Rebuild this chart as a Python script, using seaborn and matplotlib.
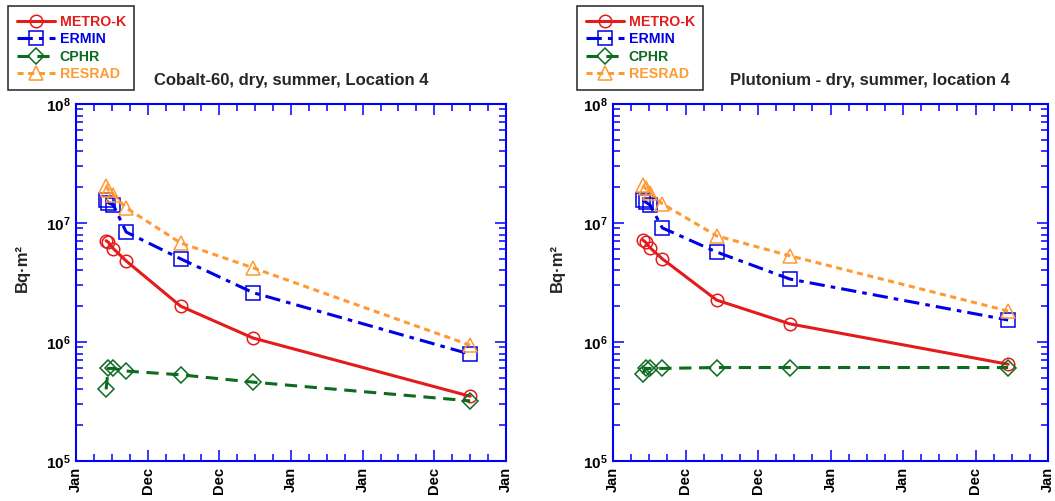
import matplotlib
matplotlib.use('Agg')
import matplotlib.pyplot as plt
from matplotlib.ticker import MultipleLocator, LogLocator, NullFormatter
import numpy as np
import pandas as pd
import seaborn as sns

# model names and x tick labels
models = ['METRO-K', 'ERMIN', 'CPHR', 'RESRAD']
x_tick_labels = ['Jan', 'Dec', 'Dec', 'Jan', 'Jan', 'Dec', 'Jan']

# Cobalt-60 panel (time in tick units)
co_time = [0.42, 0.45, 0.52, 0.70, 1.46, 2.47, 5.50]
co_metro = [7.1e6, 6.9e6, 6.1e6, 4.8e6, 2.0e6, 1.08e6, 3.5e5]
co_ermin = [1.56e7, 1.48e7, 1.42e7, 8.4e6, 5.0e6, 2.6e6, 7.9e5]
co_cphr = [4.0e5, 6.0e5, 6.0e5, 5.7e5, 5.3e5, 4.6e5, 3.2e5]
co_resrad = [2.05e7, 1.9e7, 1.72e7, 1.34e7, 6.8e6, 4.2e6, 9.4e5]

# Plutonium panel
pu_time = [0.41, 0.45, 0.51, 0.68, 1.43, 2.44, 5.45]
pu_metro = [7.2e6, 6.9e6, 6.2e6, 5.0e6, 2.25e6, 1.42e6, 6.5e5]
pu_ermin = [1.56e7, 1.5e7, 1.42e7, 9.1e6, 5.7e6, 3.38e6, 1.53e6]
pu_cphr = [5.4e5, 6.0e5, 6.0e5, 6.0e5, 6.1e5, 6.1e5, 6.1e5]
pu_resrad = [2.08e7, 1.95e7, 1.79e7, 1.45e7, 7.8e6, 5.3e6, 1.82e6]

styles = {
    'METRO-K': dict(color='#e41b1b', marker='o', ls='-', ms=9),
    'ERMIN': dict(color='#0000e6', marker='s', ls=(0, (5, 2, 1.5, 2)), ms=9.5),
    'CPHR': dict(color='#0b6b1e', marker='D', ls=(0, (4, 2.5)), ms=8),
    'RESRAD': dict(color='#ff9a33', marker='^', ls=(0, (2, 1.5)), ms=9.5),
}


def make_frame(time, series):
    rows = []
    for m, vals in zip(models, series):
        for t, v in zip(time, vals):
            rows.append({'model': m, 't': t, 'v': v})
    return pd.DataFrame(rows)


def draw_panel(ax, frame, title, title_x, ylabel_x, legend_x):
    for m in models:
        sub = frame[frame['model'] == m]
        st = styles[m]
        sns.lineplot(data=sub, x='t', y='v', ax=ax, color=st['color'],
                     marker=st['marker'], markersize=st['ms'],
                     markerfacecolor='none', markeredgecolor=st['color'],
                     markeredgewidth=1.1, linestyle=st['ls'], linewidth=2.2,
                     label=m, legend=False, sort=False, estimator=None)

    ax.set_yscale('log')
    ax.set_ylim(1e5, 1e8)
    ax.set_xlim(0, 6)
    ax.xaxis.set_major_locator(MultipleLocator(1))
    ax.xaxis.set_minor_locator(MultipleLocator(0.25))
    ax.set_xticks(range(7))
    ax.set_xticklabels(x_tick_labels, rotation=90, fontsize=10.5, fontweight='bold')
    ax.set_yticks([1e5, 1e6, 1e7, 1e8])
    ax.set_yticklabels([r'$\mathbf{10^{%d}}$' % p for p in [5, 6, 7, 8]], fontsize=11)
    ax.yaxis.set_minor_locator(LogLocator(base=10, subs=np.arange(2, 10)))
    ax.yaxis.set_minor_formatter(NullFormatter())

    ax.tick_params(axis='both', which='both', direction='in', top=True, right=True,
                   bottom=True, left=True, color='blue', width=1.1, labelcolor='black')
    ax.tick_params(axis='both', which='major', length=8, pad=4)
    ax.tick_params(axis='both', which='minor', length=5)
    for sp in ax.spines.values():
        sp.set_color('blue')
        sp.set_linewidth(1.5)

    ax.set_xlabel('')
    ax.set_ylabel('Bq·m²', fontsize=12, fontweight='bold')
    ax.yaxis.set_label_coords(ylabel_x, 0.54)
    ax.text(title_x, 1.053, title, transform=ax.transAxes, ha='center', va='baseline',
            fontsize=12, fontweight='bold')

    handles, labels = ax.get_legend_handles_labels()
    fig = ax.figure
    leg = ax.legend(handles, labels, loc='upper left',
                    bbox_to_anchor=(legend_x / 1055, 1 - 6 / 501),
                    bbox_transform=fig.transFigure, frameon=True, fancybox=False,
                    edgecolor='black', prop={'size': 10.2, 'weight': 'bold'},
                    labelcolor='linecolor', handlelength=2.7, labelspacing=0.25,
                    borderpad=0.6, handletextpad=0.35, borderaxespad=0)
    leg.get_frame().set_linewidth(1.2)


sns.set_style('white')
plt.rcParams['font.family'] = ['Liberation Sans', 'DejaVu Sans']
plt.rcParams['mathtext.fontset'] = 'custom'
plt.rcParams['mathtext.rm'] = 'Liberation Sans'
plt.rcParams['mathtext.bf'] = 'Liberation Sans:bold'

fig = plt.figure(figsize=(10.55, 5.01), dpi=100)
ax1 = fig.add_axes([76 / 1055, 40 / 501, 430 / 1055, 357 / 501])
ax2 = fig.add_axes([613 / 1055, 40 / 501, 435 / 1055, 357 / 501])

co_frame = make_frame(co_time, [co_metro, co_ermin, co_cphr, co_resrad])
pu_frame = make_frame(pu_time, [pu_metro, pu_ermin, pu_cphr, pu_resrad])

draw_panel(ax1, co_frame, 'Cobalt-60, dry, summer, Location 4', 0.5, -46 / 430, 8)
draw_panel(ax2, pu_frame, 'Plutonium - dry, summer, location 4', 0.59, -48 / 435, 577)

fig.savefig('out.png', dpi=100)
